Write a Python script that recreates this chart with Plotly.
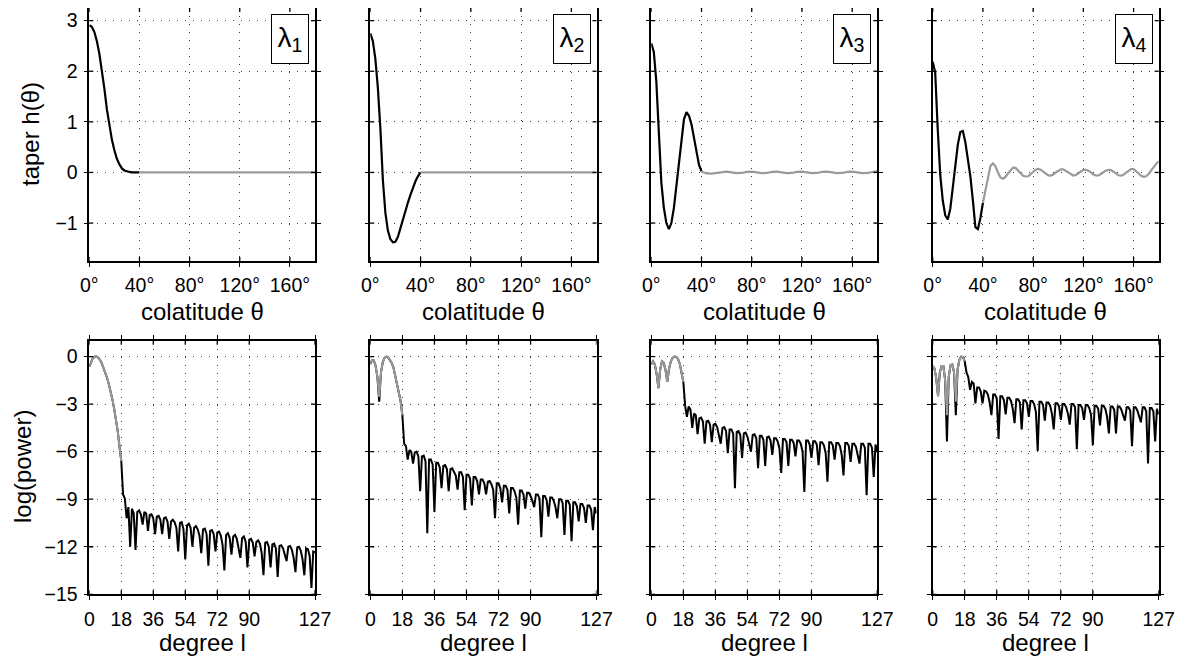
import plotly.graph_objects as go

W, H = 1191, 663
OFF = 8  # the page body adds an 8 px margin around the figure

# ---------------- data: taper h(theta), colatitude in degrees ----------------
theta_cap = [0, 2, 4, 6, 8, 10, 12, 14, 16, 18, 20, 22, 24, 26, 28, 30, 32, 34, 36, 38, 40]
taper1_cap = [2.91, 2.88, 2.78, 2.6, 2.35, 2.02, 1.66, 1.25, 0.92, 0.65, 0.44, 0.27, 0.16, 0.08, 0.04, 0.02, 0.01, 0.0, 0.0, 0.0, 0.0]
taper2_cap = [2.75, 2.6, 2.25, 1.68, 0.88, -0.15, -0.8, -1.15, -1.32, -1.38, -1.37, -1.27, -1.1, -0.92, -0.75, -0.59, -0.44, -0.3, -0.17, -0.07, 0.0]
taper3_cap = [2.55, 2.38, 1.8, 0.7, -0.2, -0.7, -1.0, -1.12, -1.0, -0.7, -0.28, 0.12, 0.65, 1.05, 1.19, 1.12, 0.95, 0.68, 0.38, 0.15, 0.02]
taper4_cap = [2.19, 1.97, 0.86, -0.05, -0.55, -0.85, -0.93, -0.72, -0.3, 0.15, 0.55, 0.8, 0.82, 0.6, 0.28, -0.08, -0.55, -1.08, -1.12, -0.9, -0.6]

theta_out12 = [40, 180]
taper1_out = [0.0, 0.0]
taper2_out = [0.0, 0.0]
theta_out3 = list(range(40, 181, 4))
taper3_out = [0.02, -0.02, -0.025, -0.01, 0.01, 0.015, 0.0, -0.015, -0.01, 0.01,
              0.015, 0.0, -0.015, -0.01, 0.01, 0.015, 0.0, -0.015, -0.01, 0.01,
              0.015, 0.0, -0.015, -0.01, 0.01, 0.015, 0.0, -0.015, -0.01, 0.01,
              0.015, 0.0, -0.015, -0.01, 0.01, 0.025]
theta_out4 = list(range(40, 181, 2))
taper4_out = [-0.6, -0.35, -0.08, 0.13, 0.18, 0.12, 0.0, -0.1, -0.125, -0.09,
              -0.02, 0.05, 0.095, 0.09, 0.04, -0.02, -0.065, -0.08, -0.075, -0.035,
              0.015, 0.055, 0.068, 0.055, 0.015, -0.03, -0.058, -0.062, -0.04, 0.0,
              0.04, 0.062, 0.06, 0.03, -0.01, -0.045, -0.06, -0.05, -0.015, 0.025,
              0.05, 0.052, 0.035, 0.0, -0.04, -0.06, -0.058, -0.03, 0.01, 0.04,
              0.052, 0.045, 0.015, -0.025, -0.055, -0.062, -0.045, -0.005, 0.04, 0.068,
              0.065, 0.03, -0.02, -0.065, -0.085, -0.075, -0.03, 0.04, 0.11, 0.17,
              0.22]

# ---------------- data: log(power) vs spherical-harmonic degree ----------------
power1 = [-0.63, -0.3, -0.1, -0.01, 0.0, -0.06, -0.2, -0.42, -0.7, -1.0,
          -1.35, -1.75, -2.2, -2.7, -3.3, -3.95, -4.7, -5.7, -6.6, -8.7,
          -8.95, -10.2, -9.5, -12.0, -9.6, -9.9, -12.2, -9.8, -9.7, -9.95,
          -10.6, -9.8, -9.9, -11.0, -10.0, -9.95, -10.2, -11.2, -10.1, -10.05,
          -10.3, -11.2, -10.2, -10.15, -10.4, -11.5, -10.4, -10.3, -10.45, -10.8,
          -12.3, -10.5, -10.45, -10.9, -12.8, -10.65, -10.55, -10.8, -12.0, -10.8,
          -10.7, -10.9, -11.3, -12.4, -10.9, -10.85, -11.2, -13.2, -11.0, -10.95,
          -11.2, -12.3, -11.1, -11.05, -11.3, -11.9, -13.5, -11.25, -11.15, -11.45,
          -12.5, -11.35, -11.25, -11.5, -12.0, -12.7, -11.45, -11.35, -11.7, -13.3,
          -11.55, -11.5, -11.75, -12.6, -11.7, -11.6, -11.8, -12.4, -13.8, -11.75,
          -11.7, -12.0, -13.3, -11.85, -11.8, -12.1, -13.9, -11.95, -11.9, -12.1,
          -12.5, -12.9, -12.0, -11.95, -12.2, -12.7, -13.6, -12.05, -12.0, -12.25,
          -12.8, -13.8, -12.1, -12.15, -12.6, -14.6, -12.3, -12.35]
power2 = [-0.48, -0.22, -0.25, -0.6, -1.3, -2.85, -1.0, -0.35, -0.08, 0.0,
          -0.05, -0.2, -0.4, -0.7, -1.2, -1.65, -2.1, -2.8, -3.7, -5.5,
          -5.65, -6.5, -5.9, -6.0, -6.75, -6.05, -6.0, -6.3, -8.5, -6.3,
          -6.25, -6.6, -11.15, -6.5, -6.5, -6.8, -9.8, -6.7, -6.7, -7.0,
          -8.3, -6.9, -6.85, -7.1, -8.5, -7.1, -7.05, -7.3, -7.5, -8.4,
          -7.3, -7.3, -7.6, -9.7, -7.45, -7.45, -7.7, -9.4, -7.6, -7.6,
          -7.85, -8.7, -7.75, -7.75, -8.0, -8.7, -7.9, -7.85, -8.05, -8.4,
          -10.2, -8.0, -8.0, -8.3, -9.2, -8.15, -8.15, -8.4, -9.9, -8.3,
          -8.3, -8.5, -8.9, -10.6, -8.45, -8.45, -8.7, -9.6, -8.6, -8.6,
          -8.8, -9.1, -9.5, -8.7, -8.7, -8.95, -11.4, -8.8, -8.8, -9.05,
          -10.1, -8.9, -8.9, -9.1, -9.5, -10.2, -9.0, -9.0, -9.25, -11.25,
          -9.1, -9.1, -9.35, -11.65, -9.2, -9.2, -9.45, -10.4, -9.3, -9.3,
          -9.55, -10.5, -9.4, -9.4, -9.65, -10.95, -9.5, -9.9]
power3 = [-0.48, -0.3, -0.5, -1.1, -2.0, -0.8, -0.3, -0.4, -0.85, -1.6,
          -0.75, -0.3, -0.08, 0.0, -0.02, -0.15, -0.45, -0.95, -1.6, -3.1,
          -3.8, -3.15, -3.35, -4.5, -3.6, -3.7, -4.9, -3.9, -3.85, -4.1,
          -5.5, -4.1, -4.05, -4.3, -5.4, -4.3, -4.25, -4.45, -4.9, -5.5,
          -4.5, -4.45, -4.7, -6.1, -4.6, -4.6, -4.85, -8.3, -4.75, -4.7,
          -4.95, -6.4, -4.85, -4.8, -5.05, -5.5, -6.0, -4.95, -4.9, -5.15,
          -7.05, -5.0, -5.0, -5.25, -6.9, -5.1, -5.05, -5.3, -6.2, -5.15,
          -5.15, -5.35, -5.8, -7.35, -5.2, -5.2, -5.4, -6.9, -5.25, -5.25,
          -5.45, -6.3, -5.3, -5.3, -5.5, -6.0, -8.55, -5.3, -5.3, -5.55,
          -6.4, -5.35, -5.35, -5.55, -6.85, -5.4, -5.4, -5.6, -6.1, -7.9,
          -5.4, -5.4, -5.6, -6.5, -5.45, -5.45, -5.65, -6.2, -7.5, -5.45,
          -5.45, -5.65, -6.65, -5.5, -5.5, -5.7, -6.2, -6.75, -5.5, -5.5,
          -5.75, -8.75, -5.5, -5.5, -5.75, -7.6, -5.55, -6.0]
power4 = [-0.6, -0.75, -1.4, -2.5, -1.0, -0.6, -0.6, -1.5, -5.35, -1.3,
          -0.55, -0.5, -1.0, -3.7, -0.8, -0.2, 0.0, -0.03, -0.3, -1.0,
          -1.3, -2.1, -1.6, -1.7, -2.95, -1.95, -1.95, -2.2, -2.95, -2.15,
          -2.2, -2.4, -2.9, -3.7, -2.4, -2.4, -2.65, -5.2, -2.5, -2.5,
          -2.75, -3.65, -2.6, -2.6, -2.8, -3.3, -4.2, -2.7, -2.7, -2.9,
          -4.6, -2.75, -2.75, -2.95, -3.8, -2.8, -2.8, -3.0, -3.5, -5.95,
          -2.85, -2.85, -3.05, -4.05, -2.9, -2.9, -3.1, -3.6, -4.6, -2.95,
          -2.95, -3.15, -4.0, -3.0, -3.0, -3.2, -3.6, -4.3, -3.0, -3.0,
          -3.2, -5.85, -3.05, -3.05, -3.25, -4.0, -3.05, -3.05, -3.25, -3.7,
          -5.6, -3.1, -3.1, -3.3, -4.35, -3.1, -3.1, -3.3, -3.8, -4.85,
          -3.15, -3.15, -3.35, -4.85, -3.15, -3.15, -3.35, -3.7, -4.05, -3.2,
          -3.2, -3.4, -5.65, -3.2, -3.2, -3.4, -3.8, -4.15, -3.2, -3.2,
          -3.45, -6.75, -3.25, -3.25, -3.45, -5.35, -3.3, -3.65]

# grey (bandlimit l <= 18) part as drawn on top
inner1 = power1[:19]
inner2 = [-0.48, -0.22, -0.25, -0.6, -1.3, -2.55, -1.0, -0.35, -0.08, 0.0,
          -0.05, -0.2, -0.4, -0.7, -1.2, -1.65, -2.1, -2.8, -3.7]
inner3 = power3[:19]
inner4 = [-0.6, -0.75, -1.4, -2.5, -1.0, -0.6, -0.6, -1.5, -3.7, -1.3,
          -0.55, -0.5, -1.0, -2.85, -0.8, -0.2, 0.0, -0.03, -0.3]

labels = ["1", "2", "3", "4"]
theta_ticks = [0, 40, 80, 120, 160]
theta_ticktext = ["0°", "40°", "80°", "120°", "160°"]
taper_ticks = [-1, 0, 1, 2, 3]
degree_ticks = [0, 18, 36, 54, 72, 90, 127]
power_ticks = [0, -3, -6, -9, -12, -15]

# ---------------- layout geometry (page pixels) ----------------
col_px = [(89.3, 315.0), (370.3, 596.5), (651.3, 877.3), (932.7, 1158.7)]
top_px = (8.0, 261.0)
bot_px = (340.7, 594.3)

BLACK = "#000000"
GREY = "#9a9a9a"
FONT = "Liberation Sans, Arial, Helvetica, sans-serif"
TICK_SIZE = 19.5
TITLE_SIZE = 24

fig = go.Figure()

caps = [taper1_cap, taper2_cap, taper3_cap, taper4_cap]
outs = [(theta_out12, taper1_out), (theta_out12, taper2_out), (theta_out3, taper3_out), (theta_out4, taper4_out)]
powers = [power1, power2, power3, power4]
inners = [inner1, inner2, inner3, inner4]


def ax(n):
    return "" if n == 1 else str(n)


for i in range(4):
    n = i + 1
    fig.add_trace(go.Scatter(x=theta_cap, y=caps[i], mode="lines", line=dict(color=BLACK, width=2.2),
                             xaxis="x" + ax(n), yaxis="y" + ax(n), showlegend=False, hoverinfo="skip"))
    fig.add_trace(go.Scatter(x=outs[i][0], y=outs[i][1], mode="lines", line=dict(color=GREY, width=2.2),
                             xaxis="x" + ax(n), yaxis="y" + ax(n), showlegend=False, hoverinfo="skip"))
for i in range(4):
    n = i + 5
    deg = list(range(len(powers[i])))
    fig.add_trace(go.Scatter(x=deg, y=powers[i], mode="lines", line=dict(color=BLACK, width=2),
                             xaxis="x" + ax(n), yaxis="y" + ax(n), showlegend=False, hoverinfo="skip"))
    fig.add_trace(go.Scatter(x=list(range(len(inners[i]))), y=inners[i], mode="lines",
                             line=dict(color=GREY, width=2),
                             xaxis="x" + ax(n), yaxis="y" + ax(n), showlegend=False, hoverinfo="skip"))

common = dict(showline=True, linecolor=BLACK, linewidth=1.5, mirror="ticks", ticks="outside",
              ticklen=4, tickwidth=1.3, tickcolor=BLACK, showgrid=True, gridcolor="#3a3a3a",
              gridwidth=1, griddash="1px,7px", zeroline=False, automargin=False,
              tickfont=dict(family=FONT, size=TICK_SIZE, color=BLACK), fixedrange=True)

layout = dict(width=W, height=H, margin=dict(l=0, r=0, t=0, b=0),
              paper_bgcolor="white", plot_bgcolor="white",
              font=dict(family=FONT, color=BLACK), showlegend=False)


def clamp(v):
    return min(1.0, max(0.0, v))


def pdom_x(a, b):
    return [clamp((a - OFF) / W), clamp((b - OFF) / W)]


def pdom_y(a, b):
    return [clamp(1 - (b - OFF) / H), clamp(1 - (a - OFF) / H)]


def py(v):
    return 1 - (v - OFF) / H


def px(v):
    return (v - OFF) / W


shapes = []
annotations = []
IN = 4  # inner tick length px

for i in range(4):
    for row in range(2):
        n = i + 1 + 4 * row
        xa = dict(common)
        ya = dict(common)
        xa["domain"] = pdom_x(*col_px[i])
        ya["domain"] = pdom_y(*(top_px if row == 0 else bot_px))
        xa["anchor"] = "y" + ax(n)
        ya["anchor"] = "x" + ax(n)
        if row == 0:
            xa.update(range=[0, 180], tickvals=theta_ticks, ticktext=theta_ticktext, ticklabelstandoff=2)
            ya.update(range=[-1.75, 3.25], tickvals=taper_ticks, ticklabelstandoff=2)
            xt, yt = theta_ticks, taper_ticks
            ph = top_px[1] - top_px[0]
        else:
            xa.update(range=[0, 127], tickvals=degree_ticks, ticklabelstandoff=3)
            ya.update(range=[-15, 1], tickvals=power_ticks, ticklabelstandoff=2)
            xt, yt = degree_ticks, power_ticks
            ph = bot_px[1] - bot_px[0]
        ya["showticklabels"] = (i == 0)
        layout["xaxis" + ax(n)] = xa
        layout["yaxis" + ax(n)] = ya
        pw = col_px[i][1] - col_px[i][0]
        xr = "x" + ax(n)
        yr = "y" + ax(n)
        # inner halves of the crossing tick marks
        for v in xt:
            for (y0, y1) in [(0, IN / ph), (1, 1 - IN / ph)]:
                shapes.append(dict(type="line", xref=xr, yref=yr + " domain", x0=v, x1=v, y0=y0, y1=y1,
                                   line=dict(color=BLACK, width=1.3)))
        for v in yt:
            for (x0, x1) in [(0, IN / pw), (1, 1 - IN / pw)]:
                shapes.append(dict(type="line", xref=xr + " domain", yref=yr, x0=x0, x1=x1, y0=v, y1=v,
                                   line=dict(color=BLACK, width=1.3)))
        # axis titles
        annotations.append(dict(xref=xr + " domain", x=0.5, yref="paper",
                                y=py(312 if row == 0 else 642), yanchor="middle",
                                text="colatitude θ" if row == 0 else "degree l", showarrow=False,
                                font=dict(family=FONT, size=TITLE_SIZE, color=BLACK)))
    # lambda label boxes
    annotations.append(dict(xref="x" + ax(i + 1) + " domain", yref="y" + ax(i + 1) + " domain",
                            x=1, y=1, xanchor="right", yanchor="top", xshift=-6, yshift=-6,
                            text="λ<sub>" + labels[i] + "</sub>", showarrow=False,
                            bordercolor=BLACK, borderwidth=1, borderpad=0, bgcolor="white",
                            width=36, height=48, font=dict(family=FONT, size=28, color=BLACK)))

annotations.append(dict(xref="paper", yref="paper", x=px(30), y=py(134), textangle=-90,
                        text="taper h(θ)", showarrow=False, xanchor="center", yanchor="middle",
                        font=dict(family=FONT, size=TITLE_SIZE, color=BLACK)))
annotations.append(dict(xref="paper", yref="paper", x=px(22), y=py(467), textangle=-90,
                        text="log(power)", showarrow=False, xanchor="center", yanchor="middle",
                        font=dict(family=FONT, size=TITLE_SIZE, color=BLACK)))

layout["shapes"] = shapes
layout["annotations"] = annotations
fig.update_layout(**layout)
fig.write_html("out.html")
